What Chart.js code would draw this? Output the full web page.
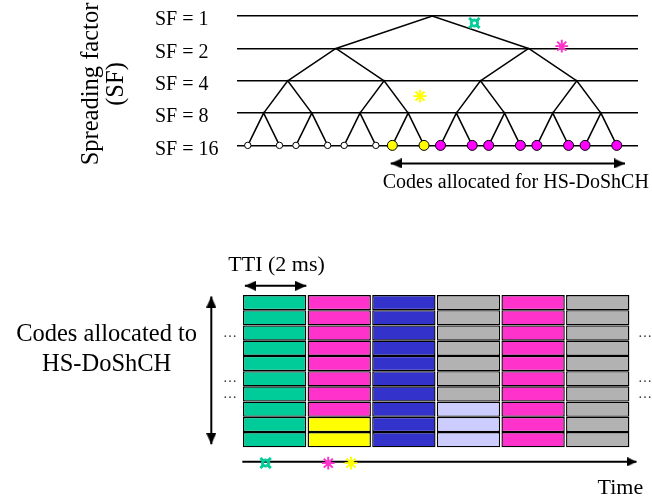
<!DOCTYPE html>
<html>
<head>
<meta charset="utf-8">
<script src="https://cdn.jsdelivr.net/npm/chart.js@4.4.1/dist/chart.umd.min.js"></script>
<style>
  html, body { margin: 0; padding: 0; background: #fff; }
  #wrap { position: relative; width: 652px; height: 498px; }
  #tree { position: absolute; left: 0; top: 0; }
  #grid { position: absolute; left: 0; top: 240px; }
</style>
</head>
<body>
<div id="wrap">
  <canvas id="tree" width="652" height="215"></canvas>
  <canvas id="grid" width="652" height="258"></canvas>
</div>
<script>
// ---- code tree ----
const sfLabels = ['SF = 1', 'SF = 2', 'SF = 4', 'SF = 8', 'SF = 16'];
// owner of each SF = 16 code ('' = free)
const leafOwner = ['', '', '', '', '', '', 'C', 'C', 'B', 'B', 'B', 'B', 'B', 'B', 'B', 'B'];
const treeNote = 'Codes allocated for HS-DoShCH';

// ---- TTI grid: owner of each code, top to bottom, in each TTI ----
const ttiSlots = [
  ['A', 'A', 'A', 'A', 'A', 'A', 'A', 'A', 'A', 'A'],
  ['B', 'B', 'B', 'B', 'B', 'B', 'B', 'B', 'C', 'C'],
  ['D', 'D', 'D', 'D', 'D', 'D', 'D', 'D', 'D', 'D'],
  ['E', 'E', 'E', 'E', 'E', 'E', 'E', 'F', 'F', 'F'],
  ['B', 'B', 'B', 'B', 'B', 'B', 'B', 'B', 'B', 'B'],
  ['E', 'E', 'E', 'E', 'E', 'E', 'E', 'E', 'E', 'E']
];
const dotRows = [2, 5, 6];   // rows with "…" on both sides (from top)
const ttiNote = 'TTI (2 ms)';
const codesNote = ['Codes allocated to', 'HS-DoShCH'];
const timeNote = 'Time';

// user symbols and where they sit
const userSymbols = { A: '¤', B: '✳', C: '✳' };
const treeMarks = [['A', 7.15, 0.25], ['B', 9.90, 0.98], ['C', 5.43, 2.54]];     // [user, code pos, level]
const timeMarks = [['A', 0.36, -1.06], ['B', 1.33, -1.16], ['C', 1.68, -1.16]];  // [user, TTI, row]

// styles
const userColor = { A: '#00CC99', B: '#FF33CC', C: '#FFFF00', D: '#3333CC', E: '#B2B2B2', F: '#CCCCFF' };
const leafColor = { '': '#FFFFFF', B: '#FF00FF', C: '#FFFF00' };
const SERIF = '"Liberation Serif", "Times New Roman", serif';
Chart.defaults.font.family = SERIF;
Chart.defaults.color = '#000';

// arrow head image, tip at the centre, pointing right at rotation 0
function makeHead(len, wid) {
  const c = document.createElement('canvas');
  c.width = len * 2; c.height = wid;
  const g = c.getContext('2d');
  g.fillStyle = '#000';
  g.beginPath(); g.moveTo(0, 0); g.lineTo(len, wid / 2); g.lineTo(0, wid); g.closePath(); g.fill();
  return c;
}
const head = makeHead(11, 10);
const smallHead = makeHead(9, 9);

function arrow(points, rotations, img) {
  return {
    type: 'line', data: points, order: 0,
    borderColor: '#000', borderWidth: 2, fill: false,
    pointStyle: img || head,
    pointRadius: rotations.map(r => r === null ? 0 : 4),
    pointRotation: rotations.map(r => r === null ? 0 : r),
    clip: false
  };
}

// text drawn at data coordinates
function notes(items) {
  return {
    id: 'notes',
    afterDatasetsDraw(chart) {
      const { ctx, scales } = chart;
      ctx.save();
      ctx.textAlign = 'center';
      ctx.textBaseline = 'middle';
      items.forEach(n => {
        ctx.font = n.font;
        ctx.fillStyle = n.color || '#000';
        const lines = [].concat(n.text);
        const px = scales.x.getPixelForValue(n.x);
        const py = scales.y.getPixelForValue(n.y);
        lines.forEach((t, i) => {
          const ty = py + (i - (lines.length - 1) / 2) * (n.lh || 0);
          ctx.fillText(t, px, ty);
          if (n.stroke) {
            ctx.strokeStyle = n.color; ctx.lineWidth = n.stroke;
            ctx.strokeText(t, px, ty);
          }
        });
      });
      ctx.restore();
    }
  };
}

function markItem([u, x, y]) {
  return u === 'A'
    ? { text: userSymbols[u], x, y, font: 'bold 20px "DejaVu Sans"', color: userColor[u], stroke: 0.8 }
    : { text: userSymbols[u], x, y, font: '16px "DejaVu Sans"', color: userColor[u], stroke: 1.1 };
}

// fixed axis width, no label overhang padding
const fixWidth = w => s => { s.width = w; s.paddingTop = 0; s.paddingBottom = 0; };

// ---------- top: code tree ----------
const PAIR_STEP = 1.52;
const leafLevel = sfLabels.length - 1;
const levelX = [leafOwner.map((_, i) => Math.floor(i / 2) * PAIR_STEP + (i % 2))];
while (levelX[0].length > 1) {
  const below = levelX[0];
  levelX.unshift(below.filter((_, i) => i % 2 === 0).map((_, i) => (below[2 * i] + below[2 * i + 1]) / 2));
}
const treeEdges = [];
for (let l = 0; l < leafLevel; l++) {
  levelX[l].forEach((px, i) => {
    const a = levelX[l + 1][2 * i], b = levelX[l + 1][2 * i + 1];
    treeEdges.push({ x: a, y: l + 1 }, { x: px, y: l }, { x: b, y: l + 1 }, { x: b, y: null });
  });
}
const leafX = levelX[leafLevel];
const firstUsed = leafOwner.findIndex(o => o);
const lastUsed = leafOwner.length - 1 - [...leafOwner].reverse().findIndex(o => o);

const treeItems = [{ text: treeNote, x: 8.455, y: 5.16, font: '20px ' + SERIF }]
  .concat(treeMarks.map(markItem));

new Chart(document.getElementById('tree'), {
  type: 'line',
  data: {
    datasets: [
      {
        type: 'scatter', order: 0,
        data: leafX.map(x => ({ x, y: leafLevel })),
        pointRadius: leafOwner.map(o => o ? 5 : 3.2),
        pointBackgroundColor: leafOwner.map(o => leafColor[o]),
        pointBorderColor: '#000', pointBorderWidth: 1
      },
      arrow([{ x: leafX[firstUsed] - 0.05, y: 4.56 }, { x: leafX[lastUsed] + 0.26, y: 4.56 }], [180, 0]),
      {
        type: 'line', order: 1, data: treeEdges,
        borderColor: '#000', borderWidth: 1.5, pointRadius: 0, spanGaps: false, fill: false
      }
    ]
  },
  options: {
    responsive: false, animation: false, devicePixelRatio: 1, events: [],
    layout: { autoPadding: false, padding: { left: 0, right: 14, top: 0, bottom: 47 } },
    plugins: { legend: { display: false }, tooltip: { enabled: false } },
    scales: {
      x: { type: 'linear', display: false, min: -0.34, max: 12.31 },
      y: {
        type: 'linear', position: 'left', reverse: true, min: -0.5, max: 4.7, weight: 0,
        afterBuildTicks: s => { s.ticks = sfLabels.map((_, i) => ({ value: i })); },
        afterFit: fixWidth(82),
        grid: { color: '#000', lineWidth: 1.5, drawTicks: false },
        border: { display: false },
        ticks: { crossAlign: 'far', labelOffset: 4, font: { size: 20 }, color: '#000',
                 callback: v => sfLabels[v] ?? '' }
      },
      yTitle: {
        type: 'linear', position: 'left', weight: 1,
        afterFit: fixWidth(155),
        grid: { display: false }, border: { display: false }, ticks: { display: false },
        title: { display: true, text: ['Spreading factor', '(SF)'], color: '#000',
                 font: { size: 24.5, lineHeight: 1.03 }, padding: { top: 78.5, bottom: 0 } }
      }
    }
  },
  plugins: [notes(treeItems)]
});

// ---------- bottom: codes over time ----------
const rowCount = ttiSlots[0].length;
const cellSets = ttiSlots[0].map((_, r) => ({
  type: 'bar', order: 1,
  data: ttiSlots.map((col, k) => ({ x: k + 0.5, y: [rowCount - r - 1, rowCount - r] })),
  backgroundColor: ttiSlots.map(col => userColor[col[r]]),
  borderColor: '#000', borderWidth: 1.4, borderSkipped: false,
  grouped: false, barPercentage: 0.98, categoryPercentage: 1
}));

const gridItems = [
  { text: ttiNote, x: 0.53, y: 11.97, font: '22px ' + SERIF },
  { text: codesNote, x: -2.10, y: 6.39, font: '24.5px ' + SERIF, lh: 30 },
  { text: timeNote, x: 5.85, y: -2.67, font: '22px ' + SERIF }
].concat(timeMarks.map(markItem));

const dotAxis = (position, padding) => ({
  type: 'linear', position, min: -3.33, max: 13.61,
  afterBuildTicks: s => { s.ticks = dotRows.map(r => ({ value: rowCount - r - 0.5 })); },
  afterFit: fixWidth(0),
  grid: { display: false }, border: { display: false },
  ticks: { mirror: true, padding, font: { size: 14 }, color: '#333', callback: () => '…' }
});

new Chart(document.getElementById('grid'), {
  type: 'bar',
  data: {
    datasets: cellSets.concat([
      arrow([{ x: -0.48, y: 0.2 }, { x: -0.48, y: rowCount - 0.1 }], [90, -90]),
      arrow([{ x: 0.04, y: 10.6 }, { x: 0.99, y: 10.6 }], [180, 0]),
      arrow([{ x: 0, y: -0.95 }, { x: ttiSlots.length + 0.1, y: -0.95 }], [null, 0], smallHead)
    ])
  },
  options: {
    responsive: false, animation: false, devicePixelRatio: 1, events: [],
    layout: { autoPadding: false, padding: 0 },
    plugins: { legend: { display: false }, tooltip: { enabled: false } },
    scales: {
      x: { type: 'linear', display: false, offset: false, min: -3.75, max: 6.34,
           afterBuildTicks: s => { s.ticks = ttiSlots.concat([[]]).map((_, k) => ({ value: k })); } },
      y: dotAxis('left', 223),
      y2: dotAxis('right', 0)
    }
  },
  plugins: [notes(gridItems)]
});
</script>
</body>
</html>
